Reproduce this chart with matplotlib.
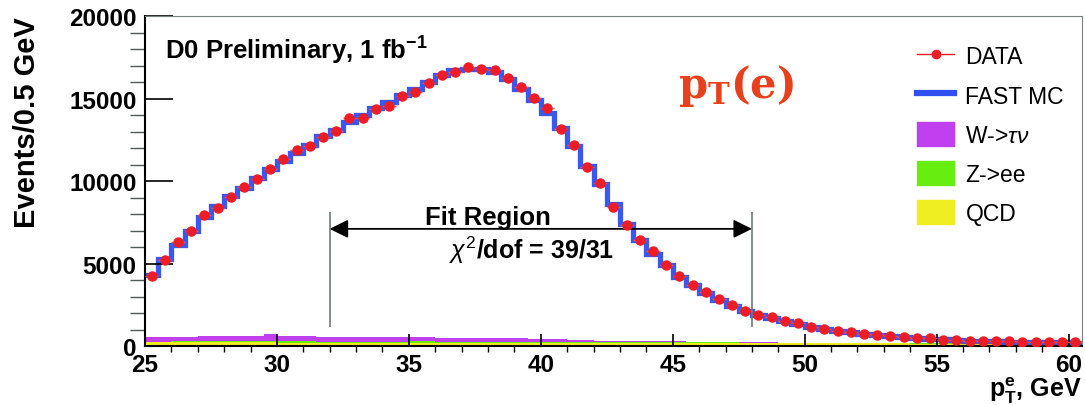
import numpy as np
import matplotlib.pyplot as plt
from matplotlib.lines import Line2D
from matplotlib.patches import Patch

#--- DATA ---#

# bin edges, 0.5 GeV bins from 25 to 60.5 GeV
edges = np.arange(25., 60.51, 0.5)
centers = edges[:-1] + 0.25

data = [4220, 5230, 6280, 6950, 7940, 8380, 9050, 9620, 10120, 10730,
        11330, 11880, 12140, 12680, 13050, 13820, 13820, 14360, 14560, 15170,
        15410, 15920, 16420, 16620, 16890, 16790, 16730, 16220, 15710, 15010,
        14420, 13150, 12200, 10870, 9860, 8440, 7350, 6420, 5780, 4930,
        4260, 3710, 3290, 2850, 2500, 2100, 1900, 1760, 1530, 1370,
        1130, 1030, 890, 870, 730, 690, 630, 560, 480, 480,
        380, 380, 320, 320, 320, 320, 260, 240, 240, 230, 230]

fast_mc = [4300, 5300, 6100, 7000, 7800, 8500, 9100, 9600, 10200, 10700,
           11200, 11700, 12200, 12700, 13100, 13600, 14000, 14400, 14800, 15200,
           15600, 16000, 16400, 16700, 16800, 16800, 16600, 16200, 15600, 14900,
           14100, 13200, 12100, 10900, 9800, 8600, 7400, 6400, 5600, 4900,
           4200, 3700, 3200, 2800, 2450, 2150, 1900, 1700, 1500, 1330,
           1150, 1020, 900, 820, 730, 660, 600, 540, 480, 440,
           400, 370, 330, 310, 290, 270, 250, 240, 230, 220, 210]

qcd = [230, 230, 225, 225, 220, 220, 220, 215, 215, 215,
       210, 210, 210, 210, 205, 205, 205, 205, 200, 200,
       200, 200, 195, 195, 195, 195, 190, 190, 190, 190,
       185, 185, 185, 185, 180, 180, 180, 180, 175, 175,
       175, 175, 170, 170, 170, 170, 165, 165, 165, 165,
       160, 160, 160, 160, 155, 155, 155, 155, 150, 150,
       150, 150, 145, 145, 145, 145, 140, 140, 140, 140, 140]

zee = [40, 40, 50, 60, 80, 80, 80, 80, 70, 70,
       70, 70, 70, 60, 60, 60, 60, 60, 60, 70,
       80, 80, 70, 70, 70, 70, 60, 60, 60, 60,
       70, 80, 80, 80, 80, 80, 80, 80, 80, 80,
       70, 60, 60, 50, 50, 40, 40, 40, 30, 30,
       30, 30, 20, 20, 20, 20, 20, 20, 20, 20,
       10, 10, 10, 10, 10, 10, 10, 10, 10, 10, 10]

wtaunu = [260, 260, 280, 280, 300, 300, 310, 310, 320, 420,
          330, 320, 310, 290, 290, 280, 280, 270, 270, 270,
          260, 260, 250, 230, 230, 250, 250, 230, 210, 190,
          170, 130, 100, 80, 70, 60, 50, 40, 40, 50,
          60, 30, 20, 20, 40, 20, 10, 10, 0, 0,
          0, 0, 0, 0, 0, 0, 0, 0, 0, 0,
          0, 0, 0, 0, 0, 0, 0, 0, 0, 0, 0]

fit_lo, fit_hi = 32., 48.

#--- STYLE ---#

plt.rcParams['font.family'] = ['Liberation Sans', 'DejaVu Sans']
plt.rcParams['mathtext.fontset'] = 'custom'
plt.rcParams['mathtext.rm'] = 'Liberation Sans'
plt.rcParams['mathtext.bf'] = 'Liberation Sans:bold'
plt.rcParams['mathtext.it'] = 'Liberation Sans:italic'

col_data = '#ee1c24'
col_mc = '#2f4ff0'
col_w = '#c040f0'
col_z = '#66ee11'
col_qcd = '#eeee22'

fig = plt.figure(figsize=(10.85, 4.06), dpi=100)
ax = fig.add_axes([0.1336, 0.1453, 0.8634, 0.8128])

# stacked backgrounds
b1 = np.array(qcd)
b2 = b1 + np.array(zee)
b3 = b2 + np.array(wtaunu)
ax.stairs(b3, edges, baseline=b2, fill=True, color=col_w)
ax.stairs(b2, edges, baseline=b1, fill=True, color=col_z)
ax.stairs(b1, edges, baseline=0, fill=True, color=col_qcd)

# fast MC
ax.stairs(fast_mc, edges, baseline=None, color=col_mc, lw=3.8, alpha=0.95)

# data
ax.errorbar(centers, data, xerr=0.25, fmt='o', color=col_data, ms=6.5,
            elinewidth=1, ecolor='#f05060', capsize=0, zorder=5)

# fit region
ax.vlines([fit_lo, fit_hi], 1150, 8100, color='#707878', lw=1.2)
ax.annotate('', xy=(fit_lo, 7100), xytext=(fit_hi, 7100),
            arrowprops=dict(arrowstyle='<|-|>', color='black', lw=1.3,
                            mutation_scale=28, shrinkA=0, shrinkB=0))
ax.text(38.0, 7800, 'Fit Region', ha='center', va='center', fontsize=18.5, fontweight='bold')
ax.text(39.65, 5850, r'$\chi^2$/dof = 39/31', ha='center', va='center', fontsize=18, fontweight='bold')

ax.text(25.75, 17950, r'D0 Preliminary, 1 fb$^{\mathbf{-1}}$', ha='left', va='center',
        fontsize=18.5, fontweight='bold')
ax.text(45.2, 15800, r'$\mathbf{p_{T}(e)}$', ha='left', va='center', color='#e8401c',
        fontsize=30, fontweight='bold', math_fontfamily='dejavuserif')

# axes
ax.set_xlim(25, 60.5)
ax.set_ylim(0, 20000)
ax.set_xticks([25, 30, 35, 40, 45, 50, 55, 60])
ax.set_xticks(np.arange(25, 61, 1), minor=True)
ax.set_yticks([0, 5000, 10000, 15000, 20000])
ax.set_yticks(np.arange(0, 20001, 1000), minor=True)
ax.tick_params(axis='both', direction='in', labelsize=17.5)
ax.tick_params(axis='y', which='major', length=20, width=1.2, pad=6)
ax.tick_params(axis='y', which='minor', length=11, width=1.0, color='#505858')
ax.tick_params(axis='x', which='major', length=9, width=1.2, pad=5)
ax.tick_params(axis='x', which='minor', length=4.5, width=1.0)
for lab in ax.get_xticklabels() + ax.get_yticklabels():
    lab.set_fontweight('bold')
ax.spines['left'].set_linewidth(1.5)
ax.spines['bottom'].set_linewidth(1.5)
ax.spines['top'].set_color('#7a8080')
ax.spines['right'].set_color('#7a8080')

ax.set_ylabel('Events/0.5 GeV', fontsize=21, fontweight='bold', loc='top')
ax.yaxis.set_label_coords(-0.111, 1.0)
fig.text(0.997, 0.0, r'$\mathbf{p}_\mathbf{T}^\mathbf{e}$, GeV', ha='right', va='bottom',
         fontsize=18, fontweight='bold')

handles = [Line2D([], [], color=col_data, marker='o', ms=6, lw=1),
           Line2D([], [], color=col_mc, lw=4.5),
           Patch(color=col_w), Patch(color=col_z), Patch(color=col_qcd)]
labels = ['DATA', 'FAST MC', r'W->$\tau\nu$', 'Z->ee', 'QCD']
ax.legend(handles, labels, loc='upper right', bbox_to_anchor=(1.003, 0.978), frameon=False,
          fontsize=16.5, handlelength=1.6, handleheight=1.2, labelspacing=0.64,
          handletextpad=0.5)

plt.savefig('out.png', dpi=100)
